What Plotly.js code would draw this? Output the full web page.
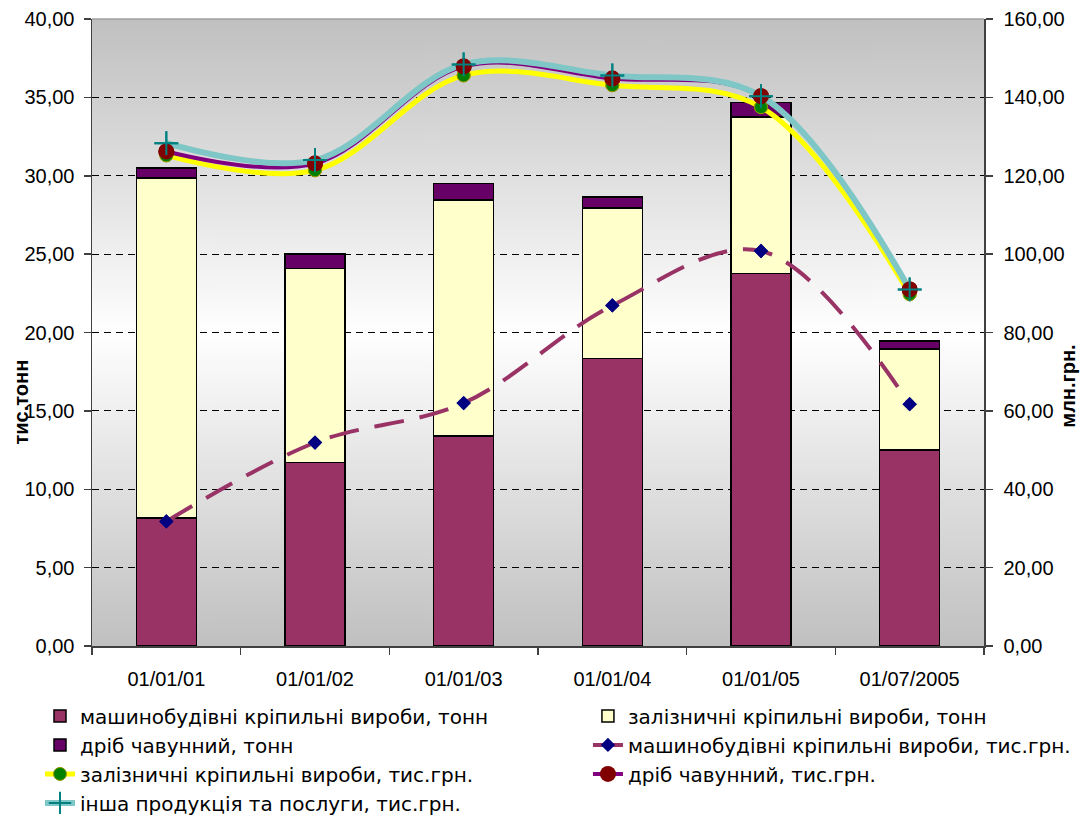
<!DOCTYPE html>
<html><head><meta charset="utf-8">
<script src="https://cdn.plot.ly/plotly-3.0.1.min.js"></script>
<style>html,body{margin:0;padding:0;background:#fff;} #chart{width:1088px;height:819px;}</style>
</head><body><div id="chart"></div>
<script>
// ---- data ----
const categories = ['01/01/01','01/01/02','01/01/03','01/01/04','01/01/05','01/07/2005'];
// left axis, тис.тонн (stacked bars)
const machTonn  = [8.17, 11.71, 13.41, 18.33, 23.77, 12.52];
const zalizTonn = [21.69, 12.38, 15.03, 9.60, 9.98, 6.43];
const dribTonn  = [0.64, 0.91, 1.08, 0.70, 0.93, 0.51];
// right axis, млн.грн. (lines)
const machUAH  = [31.8, 51.9, 62.0, 86.9, 100.8, 61.7];
const zalizUAH = [125.2, 121.4, 145.6, 143.1, 137.5, 89.8];
const dribUAH  = [126.2, 123.1, 147.9, 144.8, 140.3, 91.0];
const inshaUAH = [128.3, 124.0, 148.4, 145.6, 140.3, 91.0];
const names = [
  'машинобудівні кріпильні вироби, тонн',
  'залізничні кріпильні вироби, тонн',
  'дріб чавунний, тонн',
  'машинобудівні кріпильні вироби, тис.грн.',
  'залізничні кріпильні вироби, тис.грн.',
  'дріб чавунний, тис.грн.',
  'інша продукція та послуги, тис.грн.'
];
const leftTitle = 'тис.тонн';
const rightTitle = 'млн.грн.';

function gradientURL(){
  const c = document.createElement('canvas'); c.width = 4; c.height = 512;
  const g = c.getContext('2d');
  const gr = g.createLinearGradient(0,0,0,512);
  gr.addColorStop(0,'#c0c0c0'); gr.addColorStop(0.5,'#ffffff'); gr.addColorStop(1,'#c0c0c0');
  g.fillStyle = gr; g.fillRect(0,0,4,512);
  return c.toDataURL();
}

const barLine = {color:'#000', width:1.5};
const mDiamond = {symbol:'diamond', size:11, color:'#000080'};
const mGreen = {symbol:'circle', size:13, color:'#008000', line:{color:'#999900', width:1}};
const mRed = {symbol:'circle', size:16, color:'#800000', line:{width:0}};
const mCross = {symbol:'cross-thin', size:17, color:'#008080', line:{color:'#008080', width:2}};

const traces = [
  {type:'bar', x:categories, y:machTonn, name:names[0], legend:'legend', marker:{color:'#993366', line:barLine}},
  {type:'bar', x:categories, y:zalizTonn, name:names[1], legend:'legend2', marker:{color:'#FFFFCC', line:barLine}},
  {type:'bar', x:categories, y:dribTonn, name:names[2], legend:'legend', marker:{color:'#660066', line:barLine}},
  {type:'scatter', mode:'lines+markers', x:categories, y:machUAH, yaxis:'y2', name:names[3], legend:'legend2',
   line:{color:'#993366', width:4, dash:'30px,16px', shape:'spline', smoothing:1}, marker:mDiamond},
  {type:'scatter', mode:'lines+markers', x:categories, y:zalizUAH, yaxis:'y2', name:names[4], legend:'legend',
   line:{color:'#FFFF00', width:5, shape:'spline', smoothing:1}, marker:mGreen},
  {type:'scatter', mode:'lines+markers', x:categories, y:dribUAH, yaxis:'y2', name:names[5], legend:'legend2',
   line:{color:'#800080', width:4, shape:'spline', smoothing:1}, marker:mRed},
  {type:'scatter', mode:'lines+markers', x:categories, y:inshaUAH, yaxis:'y2', name:names[6], legend:'legend',
   line:{color:'#7fc6c6', width:6, shape:'spline', smoothing:1}, marker:mCross},
  // markers redrawn above all lines
  {type:'scatter', mode:'markers', x:categories, y:machUAH, yaxis:'y2', showlegend:false, marker:mDiamond, hoverinfo:'skip'},
  {type:'scatter', mode:'markers', x:categories, y:zalizUAH, yaxis:'y2', showlegend:false, marker:mGreen, hoverinfo:'skip'},
  {type:'scatter', mode:'markers', x:categories, y:dribUAH, yaxis:'y2', showlegend:false, marker:mRed, hoverinfo:'skip'},
  {type:'scatter', mode:'markers', x:categories, y:inshaUAH, yaxis:'y2', showlegend:false, marker:mCross, hoverinfo:'skip'}
];

const axisCol = '#404040';
const tickFont = {family:'Liberation Sans, Arial, sans-serif', size:20, color:'#000'};
const legendFont = {family:'DejaVu Sans, Verdana, sans-serif', size:20, color:'#000'};
const layout = {
  width:1088, height:819,
  margin:{l:92, r:104, t:18.5, b:172.5, pad:0, autoexpand:false},
  paper_bgcolor:'#ffffff', plot_bgcolor:'rgba(0,0,0,0)',
  separators:', ',
  barmode:'stack', bargap:0.597,
  font:tickFont,
  showlegend:true,
  xaxis:{type:'category', tickson:'boundaries', ticks:'outside', ticklen:7, tickwidth:1.5, tickcolor:axisCol,
         showline:true, linecolor:axisCol, linewidth:1.5, showgrid:false, zeroline:false, tickfont:tickFont,
         ticklabelstandoff:14, fixedrange:true},
  yaxis:{range:[0,40], dtick:5, tick0:0, tickformat:'.2f', ticks:'outside', ticklen:7, tickwidth:1.5, tickcolor:axisCol,
         showline:true, linecolor:axisCol, linewidth:1.5, showgrid:true, gridcolor:'#000', gridwidth:1, griddash:'7px,5px',
         zeroline:false, tickfont:tickFont, ticklabelstandoff:5},
  yaxis2:{overlaying:'y', side:'right', range:[0,160], dtick:20, tick0:0, tickformat:'.2f', ticks:'outside', ticklen:7,
          tickwidth:1.5, tickcolor:axisCol, showline:true, linecolor:axisCol, linewidth:1.5, showgrid:false,
          zeroline:false, tickfont:tickFont, ticklabelstandoff:7},
  legend:{orientation:'v', x:-0.0583, xanchor:'left', y:-0.0804, yanchor:'top',
          font:legendFont, traceorder:'normal', bgcolor:'rgba(0,0,0,0)', tracegroupgap:0},
  legend2:{orientation:'v', x:0.556, xanchor:'left', y:-0.0804, yanchor:'top',
          font:legendFont, traceorder:'normal', bgcolor:'rgba(0,0,0,0)', tracegroupgap:0},
  images:[{source:gradientURL(), xref:'paper', yref:'paper', x:0, y:1, sizex:1, sizey:1, sizing:'stretch',
           xanchor:'left', yanchor:'top', layer:'below'}],
  shapes:[{type:'line', xref:'paper', yref:'paper', x0:0, x1:1, y0:1, y1:1, line:{color:'#a0a0a0', width:1.5}}],
  annotations:[
    {text:leftTitle, xref:'paper', yref:'paper', x:-0.0796, y:0.39, xanchor:'center', yanchor:'middle', textangle:-90,
     showarrow:false, font:{family:'Liberation Sans, Arial, sans-serif', size:20, weight:'bold', color:'#000'}},
    {text:rightTitle, xref:'paper', yref:'paper', x:1.094, y:0.415, xanchor:'center', yanchor:'middle', textangle:-90,
     showarrow:false, font:{family:'Liberation Sans, Arial, sans-serif', size:20, weight:'bold', color:'#000'}}
  ]
};

Plotly.newPlot('chart', traces, layout, {displayModeBar:false, staticPlot:true});
</script>
</body></html>
